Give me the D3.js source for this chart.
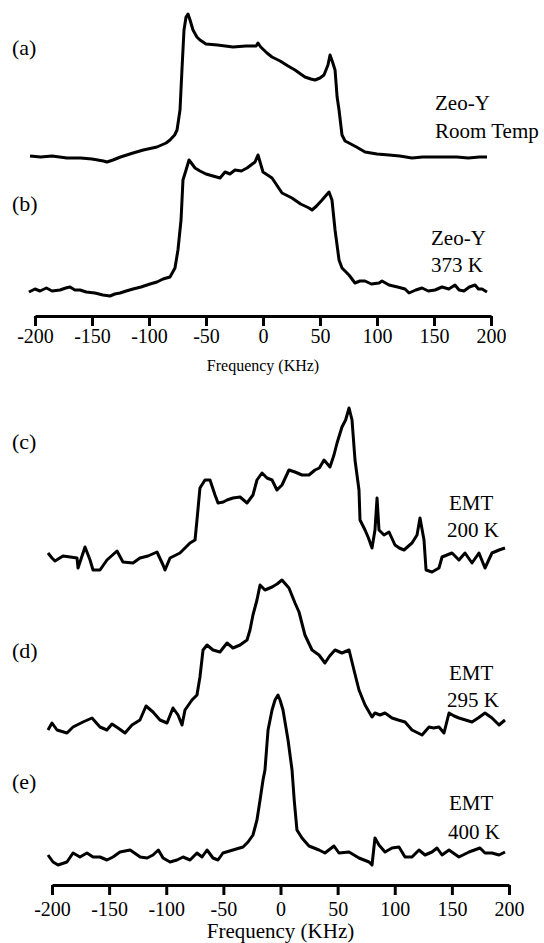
<!DOCTYPE html>
<html><head><meta charset="utf-8">
<script src="https://cdn.jsdelivr.net/npm/d3@7"></script>
<style>body{margin:0;background:#fff}svg{display:block}
svg text{font-family:"Liberation Serif","Times New Roman",Times,serif !important;fill:#000}</style>
</head><body>
<svg id="c" width="544" height="943"></svg>
<script>
// Frequency (KHz) and intensity (a.u.)
const freqA = [-204.4,-195,-185,-172,-160,-150,-140,-136.8,-131.6,-125,-114,-105,-93,-85,-81.6,-77.5,-75.4,-72.8,-71.1,-69.3,-67.5,-65.8,-64,-61.4,-58,-55.3,-50,-40,-26.3,-15,-6,-4.4,-2,3.5,7.9,15,22,28.1,33,36.8,42,45.6,50,53.5,57,58.8,61,63.2,65,66.7,69.3,72,75.4,82,89.5,100,110.5,120,130.7,140,150,160,170,180,190,196.5];
const intA  = [1,0,1,-1,-1,-2,-4,-5,-3,0,4,7,10,14,17,22,27,47,87,127,140,143,137,127,120,117,113,112,110,111,111,114,110,104,100,96,91,87,83,80,78,77,79,82,92,102,95,87,60,47,22,16,14,10,5,3,2,1,-1,0,0,0,0,-1,0,0];

const freqB = [-205.3,-200,-195.6,-190,-185,-178.1,-173,-169.3,-165,-160.5,-155,-147.4,-140.4,-134.2,-130,-125.4,-120,-114,-107,-99.1,-93,-87.7,-81.6,-77.2,-74.6,-71.9,-70.2,-67.5,-64.9,-59.6,-55.3,-50,-43.9,-37.7,-33.3,-29,-24.6,-19,-14,-7,-4.4,0,7.9,16.7,25.4,33,40.4,43,47,51.8,57.9,60.5,63.2,66.7,69.3,75.4,80.7,85,89.5,95,101.8,104.4,110.5,118,124.6,128.1,134,139.5,145,150.9,157,163,168.4,172,176.3,181,186,189,192.1,196.5];
const intB  = [-2,1,-1,2,-1,0,2,3,0,0,-2,-3,-5,-6,-4,-3,-1,1,3,6,8,11,13,22,40,70,110,120,130,122,119,116,114,112,118,116,120,119,122,128,135,118,112,97,92,86,82,80,84,90,98,90,60,30,22,15,7,9,9,6,7,9,5,3,1,-3,0,2,-1,0,3,1,5,0,-1,3,5,1,1,-2];

const freqC = [-203.5,-200,-197.4,-190.4,-184,-178.1,-177.2,-171.1,-166.7,-164.1,-158,-151.9,-147,-143.1,-137.9,-129.1,-123,-116,-108.1,-102.8,-101.1,-96.7,-88,-83.6,-79.2,-74.8,-73.1,-70.5,-66.1,-61.7,-57.3,-54.7,-50,-46.8,-41.6,-35.4,-29.3,-24.1,-20.6,-16.2,-11.8,-7.4,-3.1,1.3,7.4,12.7,18.8,24.9,30.2,34,38.1,43.3,46.8,49.5,53.8,57,60,62.6,65.2,68.7,69.6,74,77,80.1,82.7,84.5,86.2,90.6,95,100.2,104,108.1,115.1,119.5,122.1,125.6,127.4,132.6,138.7,141.4,150.1,156.2,161.5,167.6,173.7,179,185.1,191.3,196.5];
const intC  = [7,2,-1,4,3,2,-8,13,0,-10,-10,0,5,9,-2,-3,2,4,8,-5,-10,2,7,12,17,20,40,72,80,80,65,57,58,60,62,63,57,65,80,87,82,80,70,75,90,88,85,85,90,92,100,93,105,117,133,140,152,140,100,70,40,30,22,12,30,62,30,25,28,15,12,10,17,25,42,20,-10,-12,-8,3,7,0,7,-3,7,-8,7,10,12];

const freqD = [-203.5,-200,-195.6,-186.9,-181.6,-172.9,-165,-158,-151.9,-147.5,-142.2,-136.1,-130,-123,-117.7,-111.6,-105.5,-99.3,-94.1,-89.7,-86.2,-83.6,-77.5,-73.1,-70.5,-67.8,-64.3,-59.1,-53,-46.8,-41.6,-35.4,-29.3,-26.7,-24.1,-20.6,-17.9,-13.6,-7.4,-3,1.3,7.4,12.7,16.2,21.4,27.6,33.7,38.9,43,47.7,53.8,60,64.3,68.7,74,80.1,82.7,87,91.5,97.6,103,109,115.1,123.9,130,134,138.7,143.1,147.5,152,156.2,162,167.6,173,179,185.1,191.3,196.5];
const intD  = [-2,5,-2,-5,1,6,10,1,-2,4,0,-5,3,8,22,16,8,5,20,13,3,18,28,33,51,78,83,78,76,85,80,83,88,98,113,128,143,138,141,144,148,140,125,116,93,78,73,65,72,78,75,78,58,38,23,11,15,13,15,10,8,6,-2,-7,1,0,1,-5,15,12,10,8,6,10,15,10,3,8];

const freqE = [-203.5,-199.1,-194.7,-186.9,-181.6,-175.5,-169.4,-164.1,-158,-151.9,-146.6,-140.5,-131.6,-122.8,-116.7,-111.6,-106.9,-102.8,-96.7,-90.6,-85.3,-79.2,-73.1,-68.7,-64.3,-59.1,-54.7,-50.4,-41.6,-32.8,-28.4,-24.1,-20.6,-17.9,-15.3,-13.6,-10.9,-7.4,-4.8,-2.2,-0.4,2.2,6.6,10.1,12,14.4,18.8,24.9,33.7,38.9,46.8,51.2,60,68.7,77.5,80.1,82.7,86.2,91.5,97.6,103.7,109,115.1,121.2,126.5,132.6,137,141.4,147.5,156.2,165,174.6,179,185.1,191.3,196.5];
const intE  = [0,-7,-10,-7,2,-2,2,-2,-2,-5,-2,3,5,-2,-3,0,5,-3,-7,-5,-2,-5,2,-2,5,-3,-5,2,5,8,13,20,35,55,75,85,125,145,155,160,155,145,115,85,55,25,17,9,5,2,9,2,3,-3,-7,-10,17,10,3,7,8,-2,-2,5,0,3,7,0,5,-2,3,7,2,2,0,3];

const tickVals = [-200,-150,-100,-50,0,50,100,150,200];
const minorVals = [-175,-125,-75,-25,25,75,125,175];

const svg = d3.select("#c");

const xTop = d3.scaleLinear().domain([-200,200]).range([35,491]);
const xBot = d3.scaleLinear().domain([-200,200]).range([52,509]);

function yScale(base){ return d3.scaleLinear().domain([0,100]).range([base, base-100]); }

const panels = [
  {f:freqA, v:intA, x:xTop, y:yScale(157)},
  {f:freqB, v:intB, x:xTop, y:yScale(290)},
  {f:freqC, v:intC, x:xBot, y:yScale(560)},
  {f:freqD, v:intD, x:xBot, y:yScale(728)},
  {f:freqE, v:intE, x:xBot, y:yScale(855)}
];

panels.forEach(p=>{
  const line = d3.line().x((d,i)=>p.x(p.f[i])).y((d,i)=>p.y(p.v[i]));
  svg.append("path").attr("d", line(p.v)).attr("fill","none")
    .attr("stroke","#000").attr("stroke-width",3).attr("stroke-linejoin","round");
});

function drawAxis(x, y0, labelOff, titleY, titleSize){
  const g = svg.append("g").attr("transform",`translate(0,${y0})`);
  g.call(d3.axisBottom(x).tickValues(minorVals).tickSize(6).tickSizeOuter(0).tickFormat(""));
  g.call(d3.axisBottom(x).tickValues(tickVals).tickSize(10).tickSizeOuter(0).tickFormat(d3.format("d")));
  g.attr("font-family",null).attr("font-size",null);
  g.selectAll(".domain").attr("stroke","#000").attr("stroke-width",3);
  g.selectAll(".tick line").attr("stroke","#000").attr("stroke-width",3);
  g.selectAll(".tick text").attr("y",labelOff).attr("dy",0)
    .attr("font-size",20).text(d=>d);
  svg.append("text").attr("x",(x.range()[0]+x.range()[1])/2).attr("y",titleY)
    .attr("text-anchor","middle").attr("font-size",titleSize)
    .text("Frequency (KHz)");
}
drawAxis(xTop, 316, 27, 371, 16);
drawAxis(xBot, 885, 31, 938, 21);

const labels = [
  ["(a)",12,55],["(b)",12,211],["(c)",12,449],["(d)",12,658],["(e)",12,789]
];
labels.forEach(l=>svg.append("text").attr("x",l[1]).attr("y",l[2])
  .attr("font-size",22).text(l[0]));

const notes = [
  ["Zeo-Y",435,110],["Room Temp",435,138],
  ["Zeo-Y",431,245],["373 K",431,272],
  ["EMT",449,510],["200 K",447,537],
  ["EMT",449,680],["295 K",447,707],
  ["EMT",449,810],["400 K",448,839]
];
notes.forEach(n=>svg.append("text").attr("x",n[1]).attr("y",n[2])
  .attr("font-size",21).text(n[0]));
</script>
</body></html>
